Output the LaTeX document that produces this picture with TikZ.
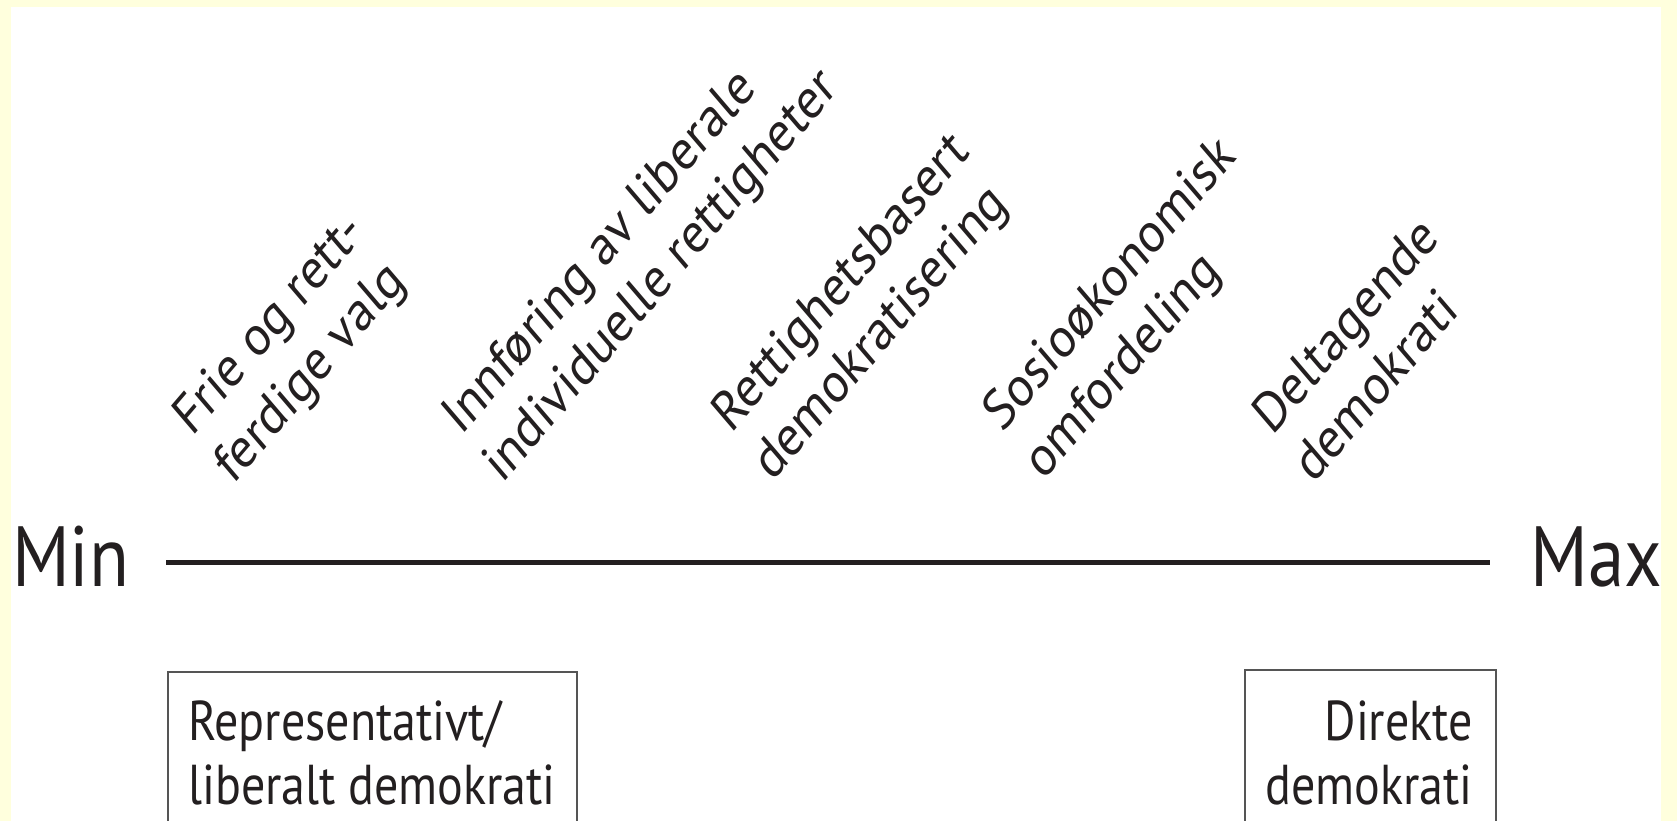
\documentclass[tikz,border=0pt]{standalone}
\usepackage{fontspec}
\setmainfont{PT Sans}
\definecolor{bgyellow}{RGB}{255,255,221}
\definecolor{ink}{RGB}{35,31,32}
\definecolor{boxline}{RGB}{85,85,85}
\begin{document}
\begin{tikzpicture}[x=1pt,y=-1pt,
  tall/.style={yscale=1.17},
  lbl/.style={rotate=45,transform shape,anchor=base west,inner sep=0pt,align=left,text=ink,
    font=\fontsize{48.3}{58}\selectfont},
  endlbl/.style={transform shape,inner sep=0pt,text=ink,font=\fontsize{73}{83}\selectfont},
  boxtxt/.style={transform shape,inner sep=0pt,text=ink,font=\fontsize{48}{54}\selectfont},
  frame/.style={draw=boxline,line width=1.5pt,inner sep=0pt,anchor=north west},
  axis/.style={draw=ink,line width=5pt}]
\useasboundingbox (0,0) rectangle (1677,821);
\fill[bgyellow] (0,0) rectangle (1677,821);
\fill[white] (11,7) rectangle (1661,821);
\begin{scope}
\clip (11,7) rectangle (1661,821);
% labels (anchor = start of the second line's baseline)
\begin{scope}[shift={(233,486)},tall]
\node[lbl] (l1) at (0,0) {Frie og rett-\\ferdige valg};
\end{scope}
\begin{scope}[shift={(502,485)},tall]
\node[lbl] (l2) at (0,0) {Innføring av liberale\\individuelle rettigheter};
\end{scope}
\begin{scope}[shift={(772,483)},tall]
\node[lbl] (l3) at (0,0) {Rettighetsbasert\\demokratisering};
\end{scope}
\begin{scope}[shift={(1043,482)},tall]
\node[lbl] (l4) at (0,0) {Sosioøkonomisk\\omfordeling};
\end{scope}
\begin{scope}[shift={(1313,485)},tall]
\node[lbl] (l5) at (0,0) {Deltagende\\demokrati};
\end{scope}
% axis
\begin{scope}[shift={(12,586)},tall]
\node[endlbl,anchor=base west] (min) at (0,0) {Min};
\end{scope}
\begin{scope}[shift={(1662,586)},tall]
\node[endlbl,anchor=base east] (max) at (0,0) {Max};
\end{scope}
\coordinate (a0) at (166,562);
\coordinate (a1) at (1490,562);
\draw[axis] (a0) -- (a1);
% boxes
\node[frame,minimum width=409pt,minimum height=180pt] (b1) at (167,671) {};
\node[frame,minimum width=251pt,minimum height=180pt] (b2) at (1244,669) {};
\begin{scope}[shift={(188,804)},tall]
\node[boxtxt,anchor=base west,align=left] (t1) at (0,0) {Representativt/\\liberalt demokrati};
\end{scope}
\begin{scope}[shift={(1473,804)},tall]
\node[boxtxt,anchor=base east,align=right] (t2) at (0,0) {Direkte\\demokrati};
\end{scope}
\end{scope}
\end{tikzpicture}
\end{document}
